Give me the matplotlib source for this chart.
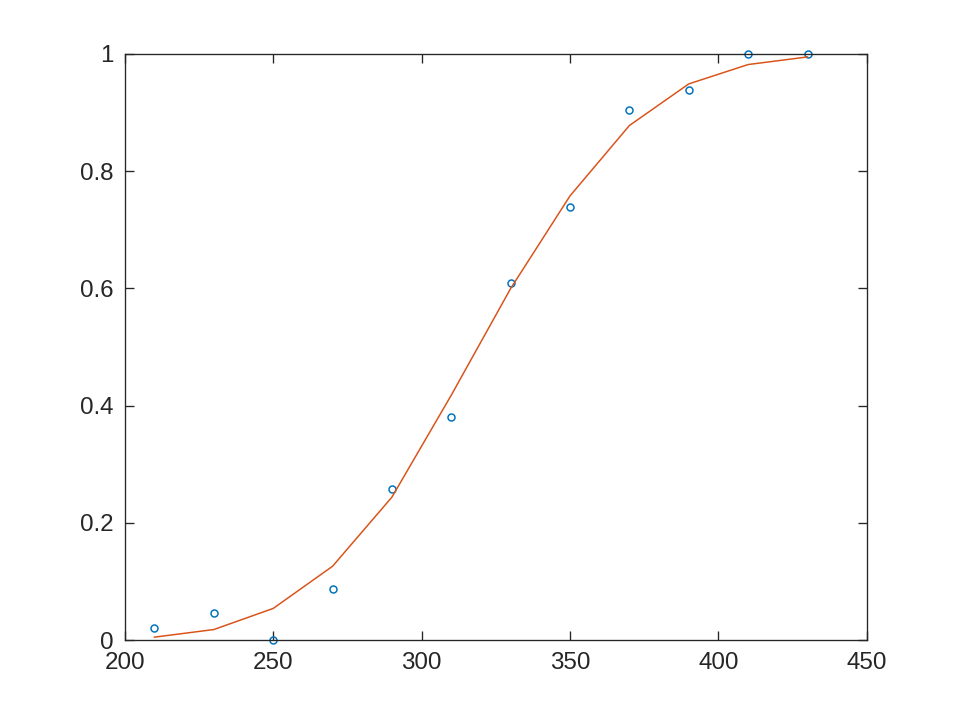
import matplotlib
matplotlib.use('Agg')
import matplotlib.pyplot as plt

# measured points and fitted curve
x_vals = [210, 230, 250, 270, 290, 310, 330, 350, 370, 390, 410, 430]
y_meas = [0.020, 0.047, 0.0, 0.088, 0.258, 0.380, 0.609, 0.739, 0.905, 0.938, 1.0, 1.0]
y_fit = [0.005, 0.018, 0.054, 0.126, 0.244, 0.418, 0.600, 0.758, 0.878, 0.949, 0.982, 0.995]

x_ticks = [200, 250, 300, 350, 400, 450]
y_ticks = [0, 0.2, 0.4, 0.6, 0.8, 1]
y_labels = ['0', '0.2', '0.4', '0.6', '0.8', '1']

plt.rcParams['font.family'] = ['Liberation Sans', 'DejaVu Sans']

fig = plt.figure(figsize=(8, 6), dpi=120)
ax = fig.add_axes([0.130, 0.111, 0.773, 0.814])

ax.plot(x_vals, y_meas, 'o', color='#0072BD', markerfacecolor='none',
        markersize=4.2, markeredgewidth=0.9, clip_on=False)
ax.plot(x_vals, y_fit, '-', color='#D95319', linewidth=0.9)

ax.set_xlim(200, 450)
ax.set_ylim(0, 1)
ax.set_xticks(x_ticks)
ax.set_yticks(y_ticks)
ax.set_yticklabels(y_labels)
ax.tick_params(direction='in', top=True, right=True, length=5.5, width=0.8,
               labelsize=14.5, colors='#262626', pad=7)
for s in ax.spines.values():
    s.set_linewidth(0.8)
    s.set_color('#262626')

fig.savefig('out.png')
